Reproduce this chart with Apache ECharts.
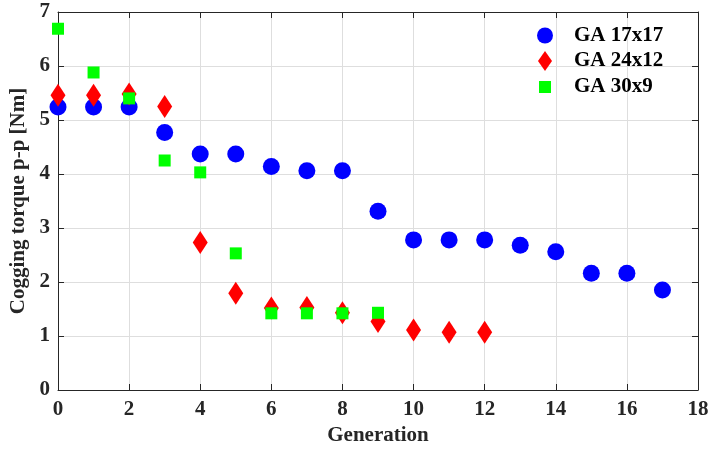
<!DOCTYPE html>
<html><head><meta charset="utf-8">
<script src="https://cdn.jsdelivr.net/npm/echarts@6/dist/echarts.min.js"></script>
<style>html,body{margin:0;padding:0;background:#fff}#c{width:714px;height:450px}</style>
</head><body><div id="c"></div>
<script>
const generations17 = [0,1,2,3,4,5,6,7,8,9,10,11,12,13,14,15,16,17];
const ga17x17 = [5.24,5.24,5.24,4.77,4.37,4.37,4.14,4.06,4.06,3.31,2.78,2.78,2.78,2.68,2.56,2.16,2.16,1.85];
const generations24 = [0,1,2,3,4,5,6,7,8,9,10,11,12];
const ga24x12 = [5.46,5.46,5.48,5.25,2.73,1.79,1.52,1.53,1.43,1.27,1.11,1.07,1.07];
const generations30 = [0,1,2,3,4,5,6,7,8,9];
const ga30x9 = [6.69,5.88,5.40,4.25,4.03,2.53,1.42,1.42,1.42,1.43];
const seriesNames = ['GA 17x17','GA 24x12','GA 30x9'];
const xTicks = {min:0,max:18,interval:2};
const yTicks = {min:0,max:7,interval:1};

const font = "'Liberation Serif','Times New Roman',serif";
const axisCol = '#262626';
const gridCol = '#dedede';
const pair = (xs, ys) => xs.map((x,i)=>[x,ys[i]]);

const chart = echarts.init(document.getElementById('c'));
const baseX = {type:'value',min:xTicks.min,max:xTicks.max,interval:xTicks.interval,
  axisLine:{show:true,onZero:false,lineStyle:{color:axisCol,width:1}},
  axisTick:{show:true,inside:true,length:6,lineStyle:{color:axisCol}}};
const baseY = {type:'value',min:yTicks.min,max:yTicks.max,interval:yTicks.interval,
  axisLine:{show:true,onZero:false,lineStyle:{color:axisCol,width:1}},
  axisTick:{show:true,inside:true,length:6,lineStyle:{color:axisCol}}};
chart.setOption({
  animation:false,
  grid:{left:58,right:16,top:12,bottom:60,containLabel:false,outerBoundsMode:'none'},
  xAxis:[
    Object.assign({},baseX,{position:'bottom',name:'Generation',nameLocation:'middle',nameGap:35,
      nameTextStyle:{fontFamily:font,fontWeight:'bold',fontSize:21,color:axisCol},
      axisLabel:{fontFamily:font,fontWeight:'bold',fontSize:21,color:axisCol,margin:9},
      splitLine:{show:true,lineStyle:{color:gridCol,width:1}}}),
    Object.assign({},baseX,{position:'top',axisLabel:{show:false},splitLine:{show:false}})
  ],
  yAxis:[
    Object.assign({},baseY,{position:'left',name:'Cogging torque p-p [Nm]',nameLocation:'middle',nameGap:19,
      nameTextStyle:{fontFamily:font,fontWeight:'bold',fontSize:21,color:axisCol},
      axisLabel:{fontFamily:font,fontWeight:'bold',fontSize:21,color:axisCol,margin:8},
      splitLine:{show:true,lineStyle:{color:gridCol,width:1}}}),
    Object.assign({},baseY,{position:'right',axisLabel:{show:false},splitLine:{show:false}})
  ],
  legend:{orient:'vertical',left:532,top:20,itemGap:4,itemWidth:16,itemHeight:22,
    textStyle:{fontFamily:font,fontWeight:'bold',fontSize:21,color:'#000',padding:[0,0,0,16]},
    data:[
      {name:seriesNames[0],icon:'circle'},
      {name:seriesNames[1],icon:'path://M0,0M8,1L15,11L8,21L1,11ZM16,22'},
      {name:seriesNames[2],icon:'path://M0,0M2,5H14V17H2ZM16,22'}
    ]},
  series:[
    {name:seriesNames[0],type:'scatter',symbol:'circle',symbolSize:17,itemStyle:{color:'#0000ff',opacity:1},data:pair(generations17,ga17x17)},
    {name:seriesNames[1],type:'scatter',symbol:'diamond',symbolSize:[15,23],itemStyle:{color:'#ff0000',opacity:1},data:pair(generations24,ga24x12)},
    {name:seriesNames[2],type:'scatter',symbol:'rect',symbolSize:12,itemStyle:{color:'#00ff00',opacity:1},data:pair(generations30,ga30x9)}
  ]
});
</script></body></html>
